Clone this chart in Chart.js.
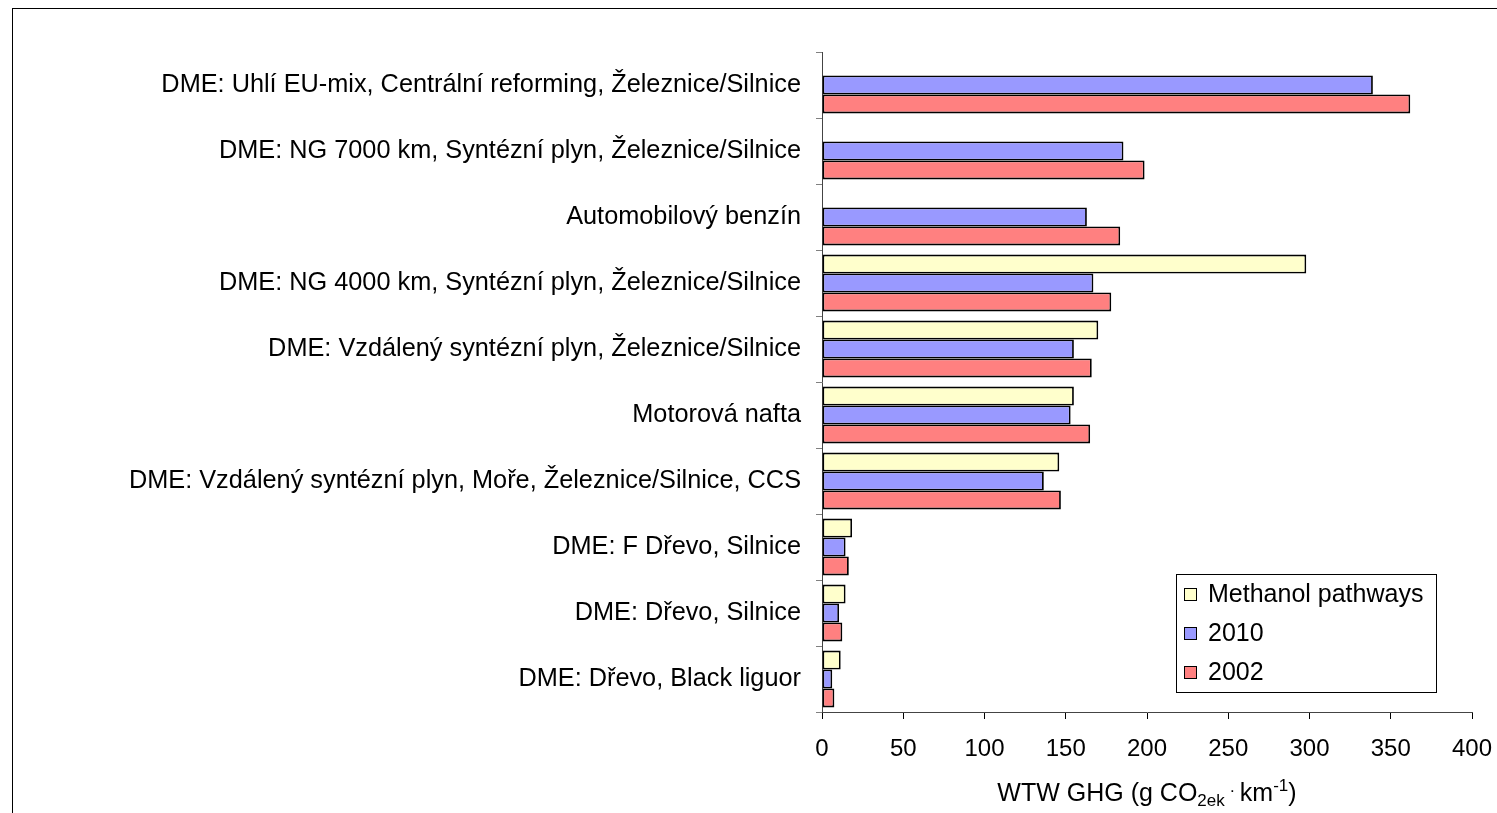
<!DOCTYPE html>
<html>
<head>
<meta charset="utf-8">
<script src="https://cdn.jsdelivr.net/npm/chart.js@4"></script>
<style>
  html, body { margin: 0; padding: 0; background: #fff; overflow: hidden; }
</style>
</head>
<body>
<canvas id="ghgchart" width="1497" height="813"></canvas>
<script>
// categories, top to bottom
const categories = [
  'DME: Uhlí EU-mix, Centrální reforming, Železnice/Silnice',
  'DME: NG 7000 km, Syntézní plyn, Železnice/Silnice',
  'Automobilový benzín',
  'DME: NG 4000 km, Syntézní plyn, Železnice/Silnice',
  'DME: Vzdálený syntézní plyn, Železnice/Silnice',
  'Motorová nafta',
  'DME: Vzdálený syntézní plyn, Moře, Železnice/Silnice, CCS',
  'DME: F Dřevo, Silnice',
  'DME: Dřevo, Silnice',
  'DME: Dřevo, Black liguor'
];
const methanol = [null, null, null, 298, 170, 155, 146, 18.5, 14.5, 11.5];
const y2010 = [339, 185.5, 163, 167, 155, 153, 136.5, 14.5, 10.5, 6.3];
const y2002 = [362, 198.5, 183.5, 178, 166, 165, 147, 16.5, 12.5, 7.6];
const seriesNames = ['Methanol pathways', '2010', '2002'];
const seriesColors = ['#FFFFCC', '#9999FF', '#FF8080'];
const xMin = 0, xMax = 400, xStep = 50;

Chart.defaults.font.family = "'Liberation Sans', Arial, sans-serif";
Chart.defaults.color = '#000';

// outer frame of the chart object
const frame = {
  id: 'frame',
  beforeDraw(chart) {
    const ctx = chart.ctx;
    ctx.save();
    ctx.strokeStyle = '#000';
    ctx.lineWidth = 1;
    ctx.strokeRect(12.5, 8.5, 3000, 3000);
    ctx.restore();
  }
};

// legend box inside the plot, bottom right
const legendBox = {
  id: 'legendBox',
  afterDraw(chart) {
    const ctx = chart.ctx, a = chart.chartArea;
    const w = 260, h = 118;
    const x = a.right - 36 - w, y = a.bottom - 20 - h;
    ctx.save();
    ctx.fillStyle = '#fff';
    ctx.fillRect(x, y, w, h);
    ctx.strokeStyle = '#000';
    ctx.lineWidth = 1;
    ctx.strokeRect(x + 0.5, y + 0.5, w, h);
    ctx.font = "25px 'Liberation Sans', Arial, sans-serif";
    ctx.textBaseline = 'middle';
    chart.data.datasets.forEach((ds, i) => {
      const cy = y + 20 + i * 39;
      ctx.fillStyle = ds.backgroundColor;
      ctx.fillRect(x + 8, cy - 6, 12, 12);
      ctx.strokeStyle = '#000';
      ctx.strokeRect(x + 8.5, cy - 5.5, 12, 12);
      ctx.fillStyle = '#000';
      ctx.fillText(ds.label, x + 32, cy + 1);
    });
    ctx.restore();
  }
};

// x axis title with sub/superscripts
const axisTitle = {
  id: 'axisTitle',
  afterDraw(chart) {
    const ctx = chart.ctx, a = chart.chartArea;
    const parts = [
      { t: 'WTW GHG (g CO', s: 25, dy: 0 },
      { t: '2ek', s: 17, dy: 5 },
      { t: ' · ', s: 17, dy: -5 },
      { t: 'km', s: 25, dy: 0 },
      { t: '-1', s: 17, dy: -10 },
      { t: ')', s: 25, dy: 0 }
    ];
    ctx.save();
    ctx.fillStyle = '#000';
    ctx.textBaseline = 'alphabetic';
    let total = 0;
    parts.forEach(p => {
      ctx.font = p.s + "px 'Liberation Sans', Arial, sans-serif";
      p.w = ctx.measureText(p.t).width;
      total += p.w;
    });
    let x = (a.left + a.right) / 2 - total / 2;
    const base = a.bottom + 89;
    parts.forEach(p => {
      ctx.font = p.s + "px 'Liberation Sans', Arial, sans-serif";
      ctx.fillText(p.t, x, base + p.dy);
      x += p.w;
    });
    ctx.restore();
  }
};

new Chart(document.getElementById('ghgchart'), {
  type: 'bar',
  data: {
    labels: categories,
    datasets: [
      { label: seriesNames[0], data: methanol, backgroundColor: seriesColors[0] },
      { label: seriesNames[1], data: y2010, backgroundColor: seriesColors[1] },
      { label: seriesNames[2], data: y2002, backgroundColor: seriesColors[2] }
    ]
  },
  options: {
    indexAxis: 'y',
    responsive: false,
    animation: false,
    layout: { padding: { top: 52, right: 25, left: 0, bottom: 0 } },
    datasets: {
      bar: {
        categoryPercentage: 0.86,
        barPercentage: 1,
        borderColor: '#000',
        borderWidth: 1.8,
        borderSkipped: false
      }
    },
    plugins: {
      legend: { display: false },
      tooltip: { enabled: false }
    },
    scales: {
      x: {
        min: xMin,
        max: xMax,
        ticks: { stepSize: xStep, font: { size: 24 }, padding: 16, color: '#000' },
        grid: { drawOnChartArea: false, tickLength: 7, color: '#000' },
        border: { color: '#444' },
        afterFit: s => { s.height = 101; s.paddingRight = 0; s.paddingLeft = 0; }
      },
      y: {
        ticks: { font: { size: 25.3 }, padding: 15, color: '#000' },
        grid: { drawOnChartArea: false, tickLength: 6, color: '#808080' },
        border: { color: '#444' },
        afterFit: s => { s.width = 822; }
      }
    }
  },
  plugins: [frame, legendBox, axisTitle]
});
</script>
</body>
</html>
